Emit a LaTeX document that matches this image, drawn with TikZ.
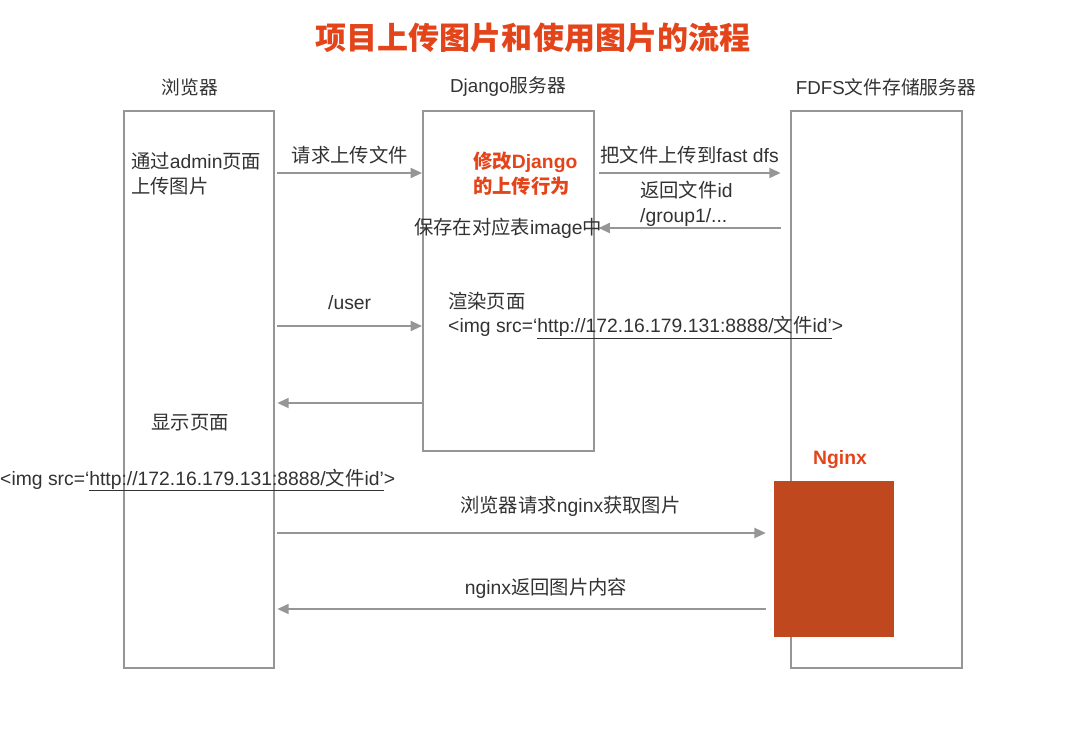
\documentclass[tikz,border=0pt]{standalone}
\usepackage{fontspec}
\setmainfont{Liberation Sans}
\newfontfamily\cjk{Noto Sans CJK SC}
\newcommand{\zh}[1]{{\cjk #1}}
\usepackage{xcolor}
\usetikzlibrary{arrows.meta, positioning}

\definecolor{lineg}{RGB}{150,150,150}
\definecolor{txtg}{RGB}{50,50,50}
\definecolor{hired}{RGB}{228,68,26}
\definecolor{ngfill}{RGB}{192,72,30}

\begin{document}
\begin{tikzpicture}[
      x = 0.03cm, y = -0.03cm,
      font = \fontsize{16.5}{21}\selectfont, text = txtg,
      box/.style   = {draw = lineg, line width = 1.7pt, anchor = north west, inner sep = 0pt},
      arr/.style   = {-{Triangle[length = 3.4mm, width = 3mm]}, draw = lineg, line width = 1.6pt},
      lbl/.style   = {inner sep = 0pt},
      hd/.style    = {inner sep = 0pt, font = \fontsize{16}{19}\selectfont},
      hot/.style   = {inner sep = 0pt, text = hired, font = \fontsize{16.5}{21}\selectfont\bfseries},
      ttl/.style   = {inner sep = 0pt, text = hired, font = \fontsize{26.5}{30}\selectfont\bfseries}
    ]
  \useasboundingbox (0,0) rectangle (1068,741);

  % ---------- title and lanes -------------------------------------------
  \node[ttl] (title) at (533,38) {\zh{项目上传图片和使用图片的流程}};

  \node[box, minimum width = 4.5cm,  minimum height = 16.71cm] (browser) at (123,110) {};
  \node[box, minimum width = 5.13cm, minimum height = 10.2cm]  (django)  at (422,110) {};
  \node[box, minimum width = 5.13cm, minimum height = 16.71cm] (fdfs)    at (790,110) {};
  \node[box, draw = ngfill, line width = .4pt, fill = ngfill,
        minimum width = 3.57cm, minimum height = 4.65cm] (nginx) at (774,481) {};

  \node[hd] (hbrowser) at (190,87) {\zh{浏览器}};
  \node[hd] (hdjango)  at (508,87) {Django\zh{服务器}};
  \node[hd] (hfdfs)    at (886,87) {FDFS\zh{文件存储服务器}};
  \node[hot] (hnginx)  at (840,460) {Nginx};

  % ---------- rows -------------------------------------------------------
  \coordinate (r1) at (0,173);
  \coordinate (r2) at (0,228);
  \coordinate (r3) at (0,326);
  \coordinate (r4) at (0,403);
  \coordinate (r5) at (0,533);
  \coordinate (r6) at (0,609);

  % ---------- upload -----------------------------------------------------
  \node[lbl, anchor = west, align = left] (upl) at (131,173.5)
        {\zh{通过}admin\zh{页面}\\\zh{上传图片}};
  \node[hot, anchor = west, align = left] (mod) at (473,173.5)
        {\zh{修改}Django\\\zh{的上传行为}};

  \draw[arr] ([xshift = 2]browser.east |- r1) -- (django.west |- r1)
        node[lbl, midway, above = 7pt] (req) {\zh{请求上传文件}};
  \draw[arr] ([xshift = 3]django.east |- r1) -- ([xshift = -8]fdfs.west |- r1)
        node[lbl, midway, above = 7pt] (put) {\zh{把文件上传到}fast dfs};
  \draw[arr] ([xshift = -8]fdfs.west |- r2) -- ([xshift = 3]django.east |- r2);
  \node[lbl, anchor = west, align = left] (ret) at (640,204)
        {\zh{返回文件}id\\/group1/...};
  \node[lbl] (save) at (508,228) {\zh{保存在对应表}image\zh{中}};

  % ---------- render ----------------------------------------------------
  \draw[arr] ([xshift = 2]browser.east |- r3) -- (django.west |- r3)
        node[lbl, midway, above = 13pt] (usr) {/user};
  \node[lbl, anchor = west, align = left] (rend) at (448,315.5)
        {\zh{渲染页面}\\<img src=‘\underline{http://172.16.179.131:8888/\zh{文件}id’}>};
  \draw[arr] (django.west |- r4) -- ([xshift = 2]browser.east |- r4);
  \node[lbl] (show) at (190,423) {\zh{显示页面}};
  \node[lbl, anchor = west] (img) at (0,480)
        {<img src=‘\underline{http://172.16.179.131:8888/\zh{文件}id’}>};

  % ---------- nginx -----------------------------------------------------
  \draw[arr] ([xshift = 2]browser.east |- r5) -- ([xshift = -7]nginx.west |- r5)
        node[lbl, pos = .6, above = 13pt] (get) {\zh{浏览器请求}nginx\zh{获取图片}};
  \draw[arr] ([xshift = -7]nginx.west |- r6) -- ([xshift = 2]browser.east |- r6)
        node[lbl, pos = .45, above = 8pt] (back) {nginx\zh{返回图片内容}};

\end{tikzpicture}
\end{document}
